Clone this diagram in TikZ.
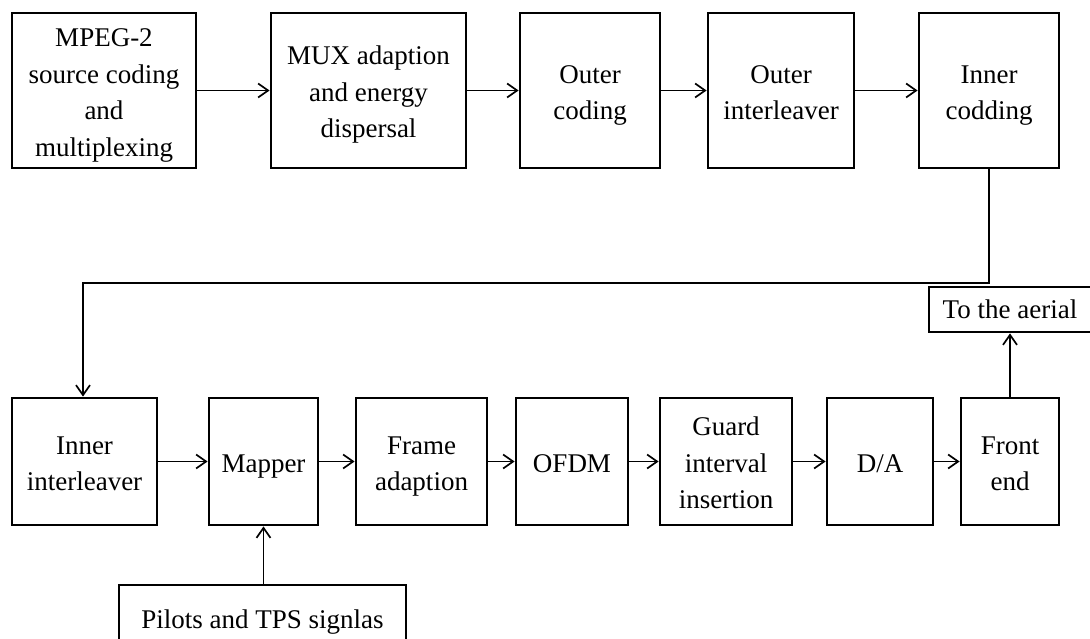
\documentclass[tikz,border=0pt]{standalone}
\usepackage{fontspec}
\setmainfont{Liberation Serif}
\usetikzlibrary{arrows.meta}
% centred multi-line block label, set a little below the geometric centre
\newcommand{\Lbl}[1]{\raisebox{-3.5pt}[\height][\depth]{\begin{tabular}{@{}c@{}}#1\end{tabular}}}
\begin{document}
\begin{tikzpicture}[x=1pt,y=-1pt,
  blk/.style={draw=black, line width=2.8pt, rectangle, inner sep=0pt,
    font=\fontsize{27}{36.5}\selectfont},
  arr/.style={line width=1.7pt, -{Straight Barb[length=10pt,width=14pt,line width=1.7pt]}}]
  \useasboundingbox (0,0) rectangle (1090,639);
  \clip (0,0) rectangle (1090,639);

  % transmitter chain, first row
  \node[blk, minimum width=184pt, minimum height=155pt] (src) at (104,90.5) {\Lbl{MPEG-2\\source coding\\and\\multiplexing}};
  \node[blk, minimum width=195pt, minimum height=155pt] (mux) at (368.5,90.5) {\Lbl{MUX adaption\\and energy\\dispersal}};
  \node[blk, minimum width=140pt, minimum height=155pt] (oc) at (590,90.5) {\Lbl{Outer\\coding}};
  \node[blk, minimum width=146pt, minimum height=155pt] (oi) at (781,90.5) {\Lbl{Outer\\interleaver}};
  \node[blk, minimum width=140pt, minimum height=155pt] (ic) at (989,90.5) {\Lbl{Inner\\codding}};

  % second row
  \node[blk, minimum width=145pt, minimum height=127pt] (ii) at (84.5,461.5) {\Lbl{Inner\\interleaver}};
  \node[blk, minimum width=109pt, minimum height=127pt] (map) at (263.5,461.5) {\Lbl{Mapper}};
  \node[blk, minimum width=131pt, minimum height=127pt] (fa) at (421.5,461.5) {\Lbl{Frame\\adaption}};
  \node[blk, minimum width=112pt, minimum height=127pt] (ofdm) at (572,461.5) {\Lbl{OFDM}};
  \node[blk, minimum width=132pt, minimum height=127pt] (gi) at (726,461.5) {\Lbl{Guard\\interval\\insertion}};
  \node[blk, minimum width=106pt, minimum height=127pt] (da) at (880,461.5) {\Lbl{D/A}};
  \node[blk, minimum width=98pt, minimum height=127pt] (fe) at (1010,461.5) {\Lbl{Front\\end}};

  % side input and output
  \node[blk, minimum width=162pt, minimum height=45pt] (aer) at (1010,309.5) {To the aerial};
  \node[blk, minimum width=287pt, minimum height=74pt] (pil) at (262.5,622) {Pilots and TPS signlas};

  % connectors
  \draw[arr] (src) -- (mux);
  \draw[arr] (mux) -- (oc);
  \draw[arr] (oc) -- (oi);
  \draw[arr] (oi) -- (ic);
  \coordinate (bend) at (83,283);
  \draw[arr] (ic.south) |- (bend) -- (ii.north -| bend);
  \draw[arr] (ii) -- (map);
  \draw[arr] (map) -- (fa);
  \draw[arr] (fa) -- (ofdm);
  \draw[arr] (ofdm) -- (gi);
  \draw[arr] (gi) -- (da);
  \draw[arr] (da) -- (fe);
  \draw[arr] (fe.north) -- (aer.south);
  \draw[arr] (pil.north -| map.south) -- (map.south);
\end{tikzpicture}
\end{document}
